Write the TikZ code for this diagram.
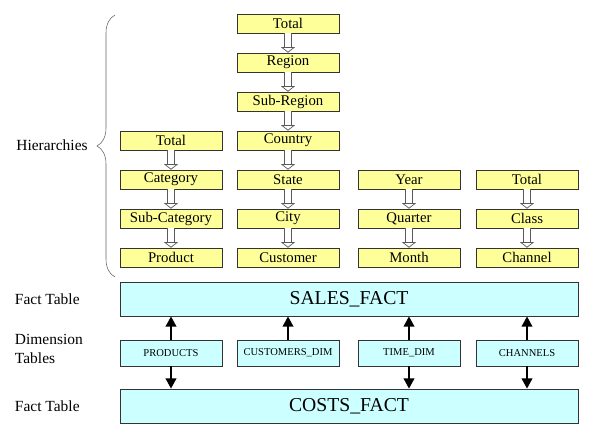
\documentclass[tikz,border=0pt]{standalone}
\usepackage{fontspec}
\setmainfont{Liberation Serif}
\usepackage{tikz}
\usetikzlibrary{arrows.meta,decorations.pathreplacing}
\definecolor{hierc}{HTML}{FFFF99}
\definecolor{tabc}{HTML}{CCFFFF}
\definecolor{linec}{HTML}{333333}
\tikzset{
  hbox/.style={draw=linec,fill=hierc,minimum width=2.55cm,minimum height=0.475cm,inner sep=0pt,font=\fontsize{10.5}{12}\selectfont},
  dbox/.style={draw=linec,fill=tabc,minimum width=2.55cm,minimum height=0.65cm,inner sep=0pt,font=\fontsize{7.5}{9}\selectfont},
  fbox/.style={draw=linec,fill=tabc,minimum width=11.45cm,minimum height=0.85cm,inner sep=0pt,font=\fontsize{14}{16}\selectfont},
  hollow/.style={draw=gray!70!black,double=white,double distance=4pt,line width=0.5pt,-{Triangle[open,length=4pt,width=10pt]}},
  ar/.style={-{Triangle[length=2.6mm,width=2.6mm]},line width=2pt,black},
  lbl/.style={anchor=west,align=left,font=\fontsize{11}{13}\selectfont}
}
\begin{document}
\begin{tikzpicture}[x=0.025cm,y=-0.025cm]
\useasboundingbox (0,0) rectangle (590,442);
% hierarchies
\foreach \lab [count=\i from 4] in {Total,Category,Sub-Category,Product}
  \node[hbox] (p\i) at (171,{23.5+39*(\i-1)}) {\lab};
\foreach \lab [count=\i] in {Total,Region,Sub-Region,Country,State,City,Customer}
  \node[hbox] (c\i) at (288,{23.5+39*(\i-1)}) {\lab};
\foreach \lab [count=\i from 5] in {Year,Quarter,Month}
  \node[hbox] (t\i) at (409,{23.5+39*(\i-1)}) {\lab};
\foreach \lab [count=\i from 5] in {Total,Class,Channel}
  \node[hbox] (h\i) at (527,{23.5+39*(\i-1)}) {\lab};
\foreach \i/\j in {4/5,5/6,6/7}{\draw[hollow] (p\i) -- (p\j);}
\foreach \i/\j in {1/2,2/3,3/4,4/5,5/6,6/7}{\draw[hollow] (c\i) -- (c\j);}
\foreach \i/\j in {5/6,6/7}{\draw[hollow] (t\i) -- (t\j); \draw[hollow] (h\i) -- (h\j);}
\draw[gray!80!black,decorate,decoration={brace,amplitude=0.45cm}] (115,277) -- (115,15);
\node[font=\fontsize{11}{13}\selectfont] (hier) at (52,145) {Hierarchies};
% tables
\node[fbox] (sales) at (349,299) {SALES\_FACT};
\node[fbox] (costs) at (349,406) {COSTS\_FACT};
\node[dbox] (prod) at (171,353) {PRODUCTS};
\node[dbox] (cust) at (288,353) {CUSTOMERS\_DIM};
\node[dbox] (time) at (409,353) {TIME\_DIM};
\node[dbox] (chan) at (527,353) {CHANNELS};
\foreach \n in {prod,cust,time,chan}{\draw[ar] (\n) -- (\n |- sales.south);}
\foreach \n in {prod,time,chan}{\draw[ar] (\n) -- (\n |- costs.north);}
\node[lbl] (ft1) at (10,299) {Fact Table};
\node[lbl] (dt) at (10,349) {Dimension\\Tables};
\node[lbl] (ft2) at (10,406) {Fact Table};
\end{tikzpicture}
\end{document}
